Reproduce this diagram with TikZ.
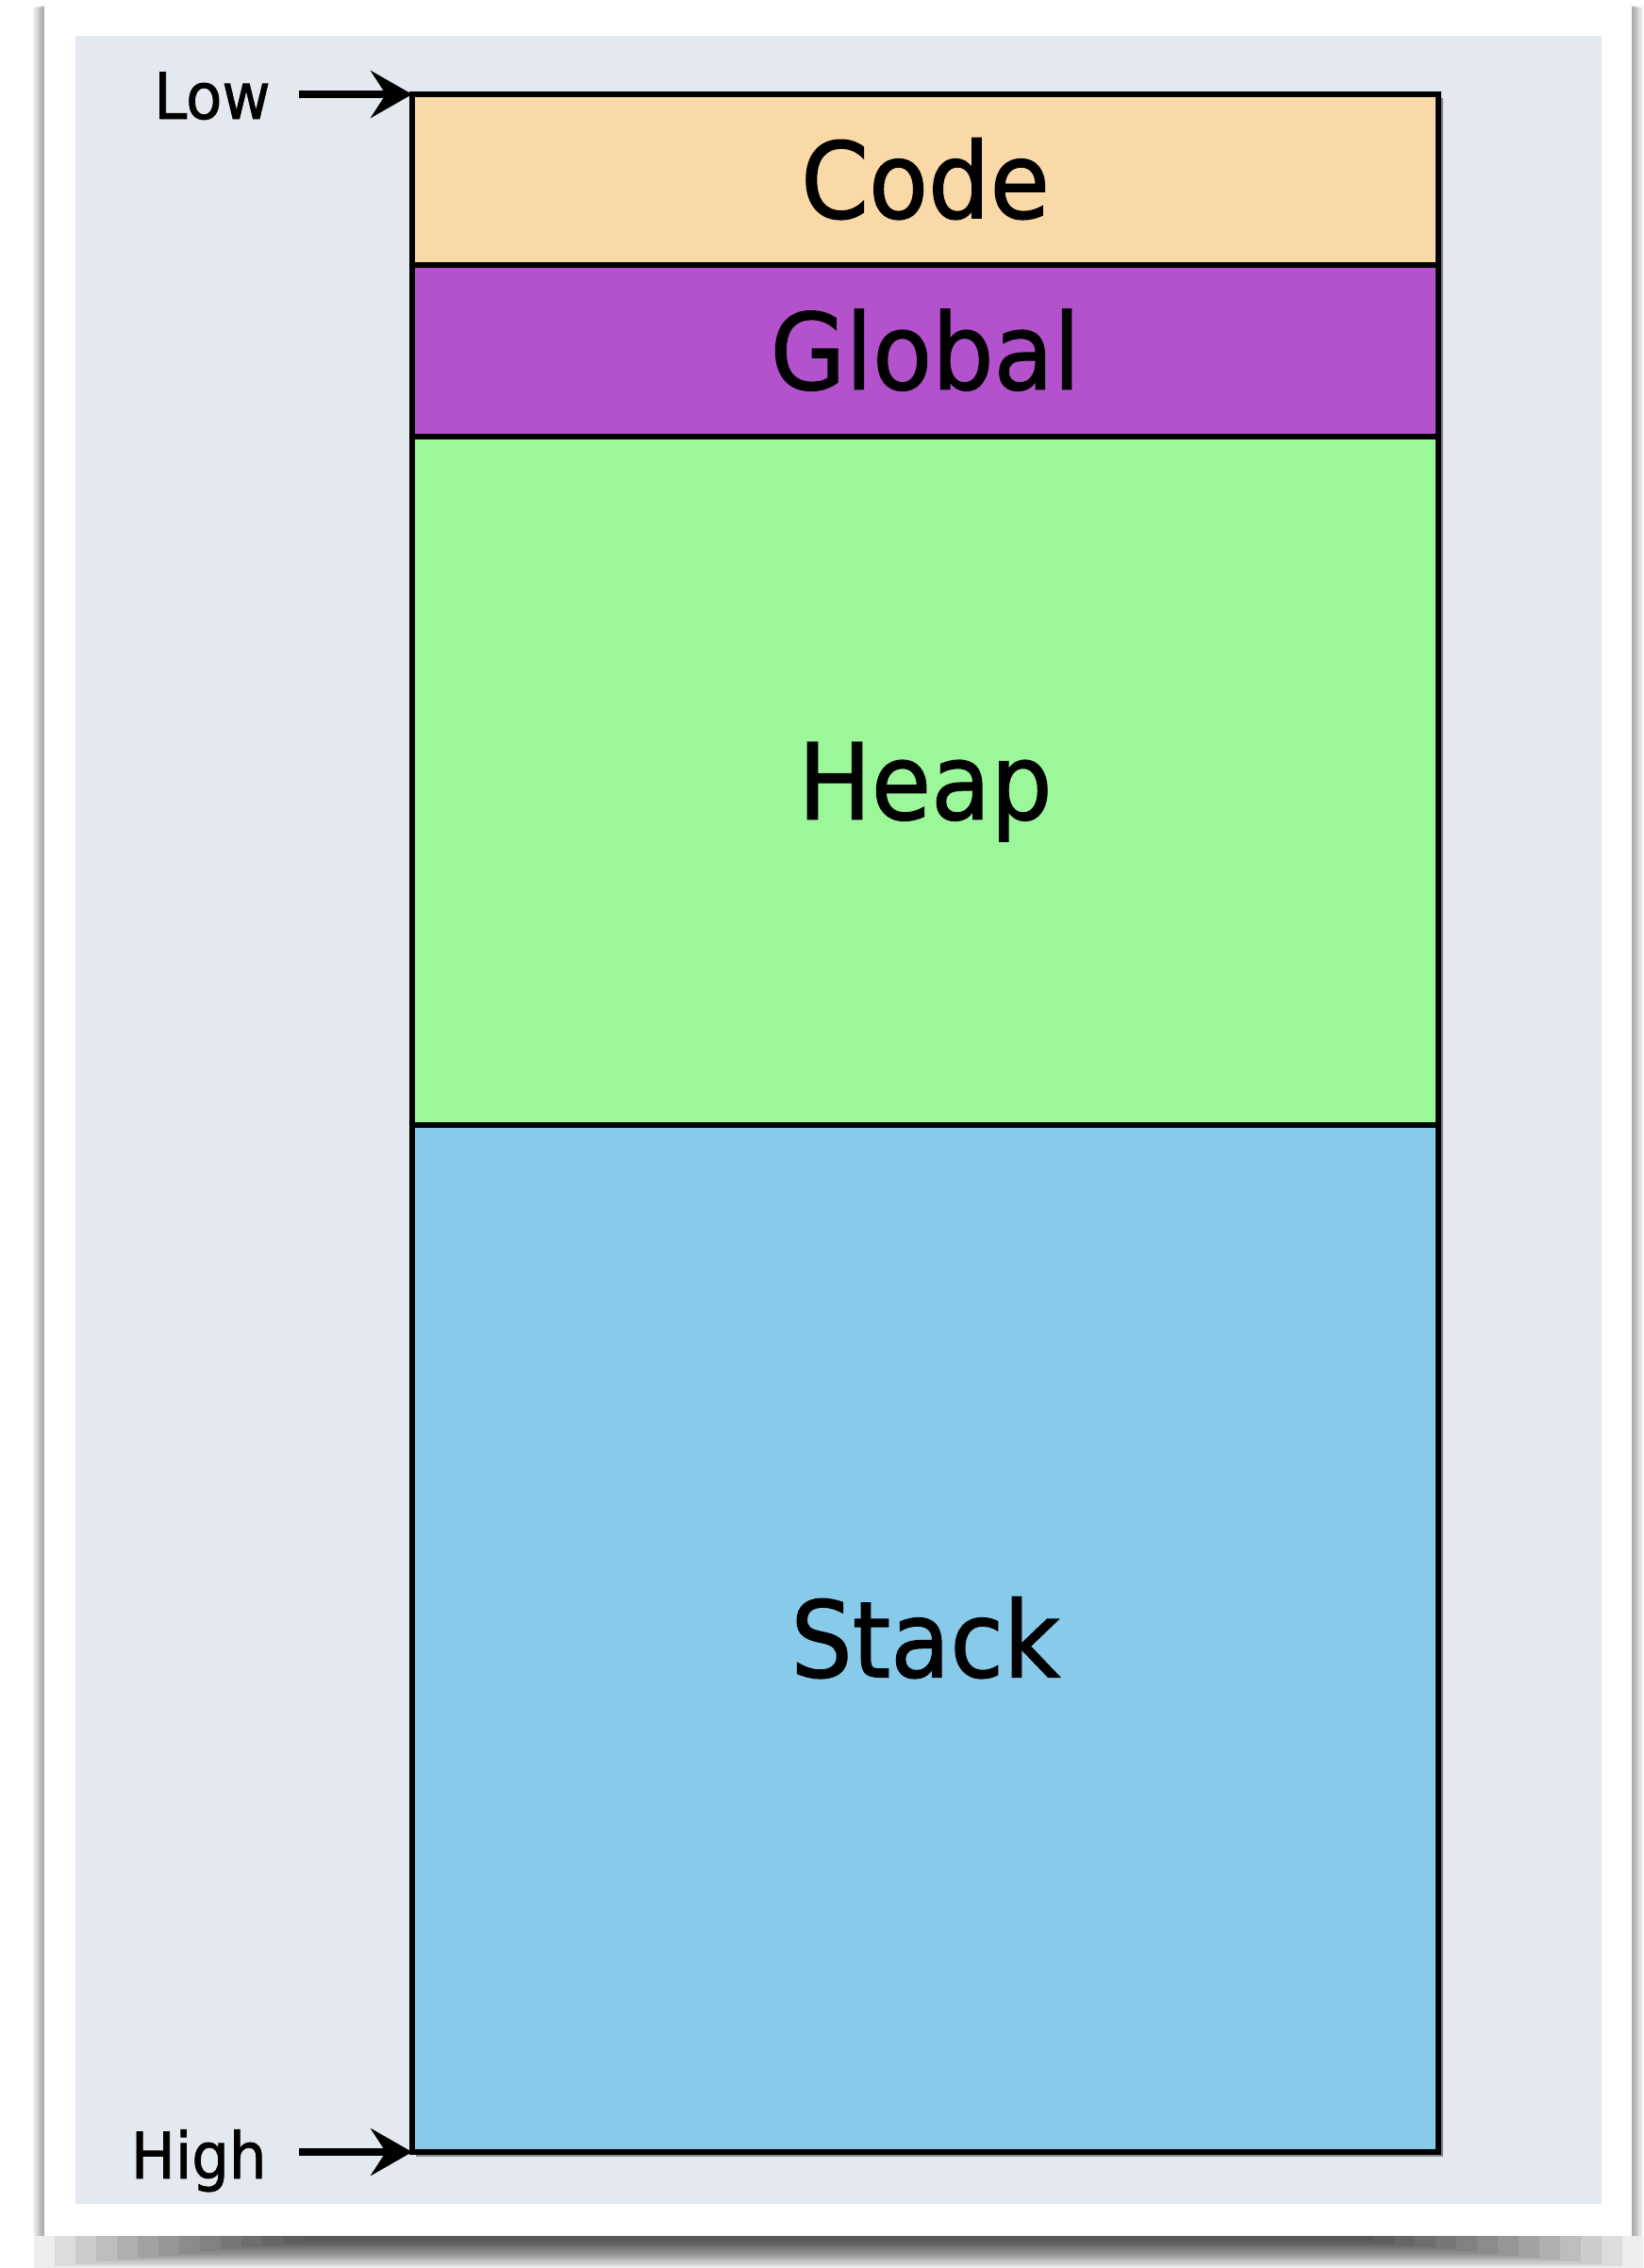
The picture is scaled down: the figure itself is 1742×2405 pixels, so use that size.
\documentclass[tikz,border=0pt]{standalone}
\usepackage{fontspec}
\setmainfont[FakeStretch=0.92, FakeBold=1.2]{DejaVu Sans}
\usetikzlibrary{arrows.meta}
\definecolor{panelcol}{HTML}{E4E9F0}
\definecolor{codecol}{HTML}{F9D9A8}
\definecolor{globalcol}{HTML}{B452CD}
\definecolor{heapcol}{HTML}{9BF799}
\definecolor{stackcol}{HTML}{87CAEA}
\tikzset{
  layer/.style={draw=black, line width=3pt, rectangle, inner sep=0pt, outer sep=0pt,
    minimum width=544pt, font=\fontsize{56pt}{60pt}\selectfont,
    text height=40.8pt, text depth=0pt, anchor=north},
  side/.style={font=\fontsize{34pt}{36pt}\selectfont, inner sep=0pt, anchor=base east},
  arr/.style={line width=4pt, -{Stealth[length=22pt, width=25pt, inset=8pt]}}
}
\begin{document}
\begin{tikzpicture}[x=0.5pt, y=-0.5pt]
\useasboundingbox (0,0) rectangle (1742,2405);
\fill[white] (0,0) rectangle (1742,2405);
% card shadow (sides)
\foreach \i in {1,...,10} {
  \fill[black, opacity=0.04] (47-\i*1.2, 5+\i*0.3) rectangle (1730+\i*1.2, 2371);
}
% card shadow (bottom)
\foreach \i in {0,...,13} {
  \fill[black, opacity=0.07] (36+\i*22, 2371) rectangle (1742-\i*22, 2405-\i*2.2);
}
% card and panel
\fill[white] (47,5) rectangle (1730,2371);
\fill[panelcol] (80,38) rectangle (1698,2337);
% box shadow
\fill[black, opacity=0.4] (441,104) rectangle (1530,2287);
% layers
\node[layer, fill=codecol, minimum height=90.5pt] (code) at (981,100) {Code};
\node[layer, fill=globalcol, minimum height=91pt] (global) at (code.south) {Global};
\node[layer, fill=heapcol, minimum height=365pt] (heap) at (global.south) {Heap};
\node[layer, fill=stackcol, minimum height=544.5pt] (stack) at (heap.south) {Stack};
% side labels
\node[side] (low) at (287,126) {Low};
\node[side] (high) at (283,2310) {High};
\coordinate (lowtail) at (317,100);
\coordinate (hightail) at (317,2282);
\draw[arr] (lowtail) -- (code.north west);
\draw[arr] (hightail) -- (stack.south west);
\end{tikzpicture}
\end{document}
